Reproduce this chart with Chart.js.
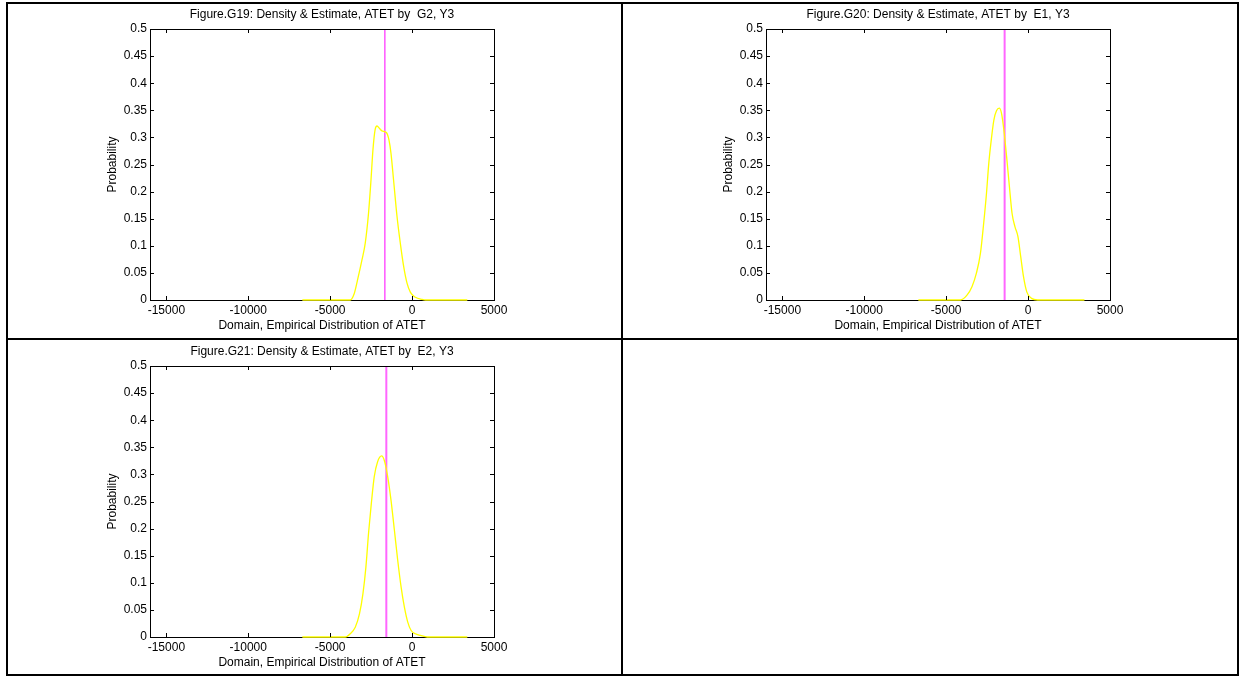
<!DOCTYPE html>
<html>
<head>
<meta charset="utf-8">
<script src="https://cdn.jsdelivr.net/npm/chart.js@4/dist/chart.umd.min.js"></script>
<style>
  body { margin: 0; background: #fff; width: 1240px; height: 677px; position: relative; overflow: hidden; }
  .frame { position: absolute; left: 6px; top: 2px; width: 1233px; height: 674px; border: 2px solid #000; box-sizing: border-box; }
  .vline { position: absolute; left: 621px; top: 2px; width: 2px; height: 674px; background: #000; }
  .hline { position: absolute; left: 6px; top: 338px; width: 1233px; height: 2px; background: #000; }
  canvas { position: absolute; }
</style>
</head>
<body>
<div class="frame"></div>
<div class="vline"></div>
<div class="hline"></div>
<canvas id="g19" width="600" height="330" style="left:10px;top:5px"></canvas>
<canvas id="g20" width="600" height="330" style="left:626px;top:5px"></canvas>
<canvas id="g21" width="600" height="330" style="left:10px;top:342px"></canvas>
<script>
// axis ticks shared by all three panels
const xTicks = [-15000, -10000, -5000, 0, 5000];
const yTicks = [0, 0.05, 0.1, 0.15, 0.2, 0.25, 0.3, 0.35, 0.4, 0.45, 0.5];

// G19: ATET by G2, Y3
const g19X = [-6700, -3780, -3530, -3330, -3060, -2860, -2660, -2510, -2390, -2260, -2140, -2000, -1840, -1570, -1410, -1290, -1130, -920, -720, -510, -310, -100, 200, 610, 820, 3370];
const g19Y = [0, 0, 0.012, 0.037, 0.074, 0.105, 0.16, 0.221, 0.277, 0.314, 0.321, 0.317, 0.312, 0.309, 0.295, 0.271, 0.221, 0.154, 0.105, 0.061, 0.031, 0.014, 0.005, 0.001, 0, 0];
const g19Est = -1660;

// G20: ATET by E1, Y3
const g20X = [-6700, -4140, -3730, -3420, -3160, -2910, -2710, -2540, -2400, -2250, -2090, -1930, -1760, -1620, -1480, -1310, -1140, -980, -800, -620, -450, -280, -80, 210, 580, 3440];
const g20Y = [0, 0, 0.009, 0.025, 0.049, 0.086, 0.142, 0.197, 0.252, 0.295, 0.332, 0.349, 0.354, 0.344, 0.314, 0.264, 0.209, 0.16, 0.135, 0.117, 0.08, 0.043, 0.015, 0.003, 0, 0];
const g20Est = -1433;

// G21: ATET by E2, Y3
const g21X = [-6700, -4080, -3780, -3470, -3210, -3000, -2820, -2660, -2490, -2310, -2110, -1860, -1700, -1490, -1290, -1080, -880, -670, -470, -270, -60, 200, 510, 920, 3370];
const g21Y = [0, 0, 0.006, 0.018, 0.043, 0.08, 0.129, 0.191, 0.246, 0.296, 0.323, 0.334, 0.326, 0.296, 0.253, 0.197, 0.142, 0.092, 0.055, 0.028, 0.012, 0.006, 0.003, 0, 0];
const g21Est = -1573;

const font = { family: "'Liberation Sans', Arial, sans-serif", size: 12 };

// box round the plot plus short inward tick marks on all four sides
const boxTicks = {
  id: "boxTicks",
  afterDraw(chart) {
    const { ctx, chartArea: a, scales } = chart;
    ctx.save();
    ctx.strokeStyle = "#000";
    ctx.lineWidth = 1;
    ctx.beginPath();
    ctx.moveTo(a.left, a.top + 0.5);
    ctx.lineTo(a.right + 0.5, a.top + 0.5);
    ctx.lineTo(a.right + 0.5, a.bottom);
    for (const v of xTicks) {
      const px = Math.round(scales.x.getPixelForValue(v)) + 0.5;
      ctx.moveTo(px, a.bottom); ctx.lineTo(px, a.bottom - 4);
      ctx.moveTo(px, a.top); ctx.lineTo(px, a.top + 4);
    }
    for (const v of yTicks) {
      const py = Math.round(scales.y.getPixelForValue(v)) + 0.5;
      ctx.moveTo(a.left, py); ctx.lineTo(a.left + 4, py);
      ctx.moveTo(a.right, py); ctx.lineTo(a.right - 4, py);
    }
    ctx.stroke();
    ctx.restore();
  },
};

function makeChart(id, title, xs, ys, est, estColor, estWidth) {
  new Chart(document.getElementById(id), {
    type: "scatter",
    data: {
      datasets: [
        {
          data: xs.map((x, i) => ({ x, y: ys[i] })),
          showLine: true,
          borderColor: "#ffff00",
          borderWidth: 1.3,
          pointRadius: 0,
          cubicInterpolationMode: "monotone",
          clip: false,
        },
        {
          data: [{ x: est, y: 0 }, { x: est, y: 0.5 }],
          showLine: true,
          borderColor: estColor,
          borderWidth: estWidth,
          pointRadius: 0,
        },
      ],
    },
    options: {
      responsive: false,
      animation: false,
      layout: { padding: { left: 95.5, right: 116, top: 0, bottom: 2.3 } },
      plugins: {
        legend: { display: false },
        tooltip: { enabled: false },
        title: {
          display: true,
          text: title,
          fullSize: false,
          color: "#000",
          font: { ...font, weight: "normal" },
          padding: { top: 2.8, bottom: 6.8 },
        },
      },
      scales: {
        x: {
          type: "linear",
          min: -16000,
          max: 5000,
          afterBuildTicks: (s) => { s.ticks = xTicks.map((value) => ({ value })); },
          afterFit: (s) => { s.height = 32.7; },
          ticks: { color: "#000", font, padding: 3.3, maxRotation: 0, callback: (v) => String(v) },
          grid: { display: true, drawOnChartArea: false, drawTicks: false },
          border: { color: "#000", width: 1 },
          title: { display: true, text: "Domain, Empirical Distribution of ATET", color: "#000", font, padding: 0 },
        },
        y: {
          min: 0,
          max: 0.5,
          afterBuildTicks: (s) => { s.ticks = yTicks.map((value) => ({ value })); },
          afterFit: (s) => { s.width = 44.5; },
          ticks: { color: "#000", font, padding: 3, callback: (v) => String(v) },
          grid: { display: true, drawOnChartArea: false, drawTicks: false },
          border: { color: "#000", width: 1 },
          title: { display: true, text: "Probability", color: "#000", font, padding: 0 },
        },
      },
    },
    plugins: [boxTicks],
  });
}

makeChart("g19", "Figure.G19: Density & Estimate, ATET by  G2, Y3", g19X, g19Y, g19Est, "#ff00ff", 1);
makeChart("g20", "Figure.G20: Density & Estimate, ATET by  E1, Y3", g20X, g20Y, g20Est, "#ff66ff", 2);
makeChart("g21", "Figure.G21: Density & Estimate, ATET by  E2, Y3", g21X, g21Y, g21Est, "#ff66ff", 2);
</script>
</body>
</html>
